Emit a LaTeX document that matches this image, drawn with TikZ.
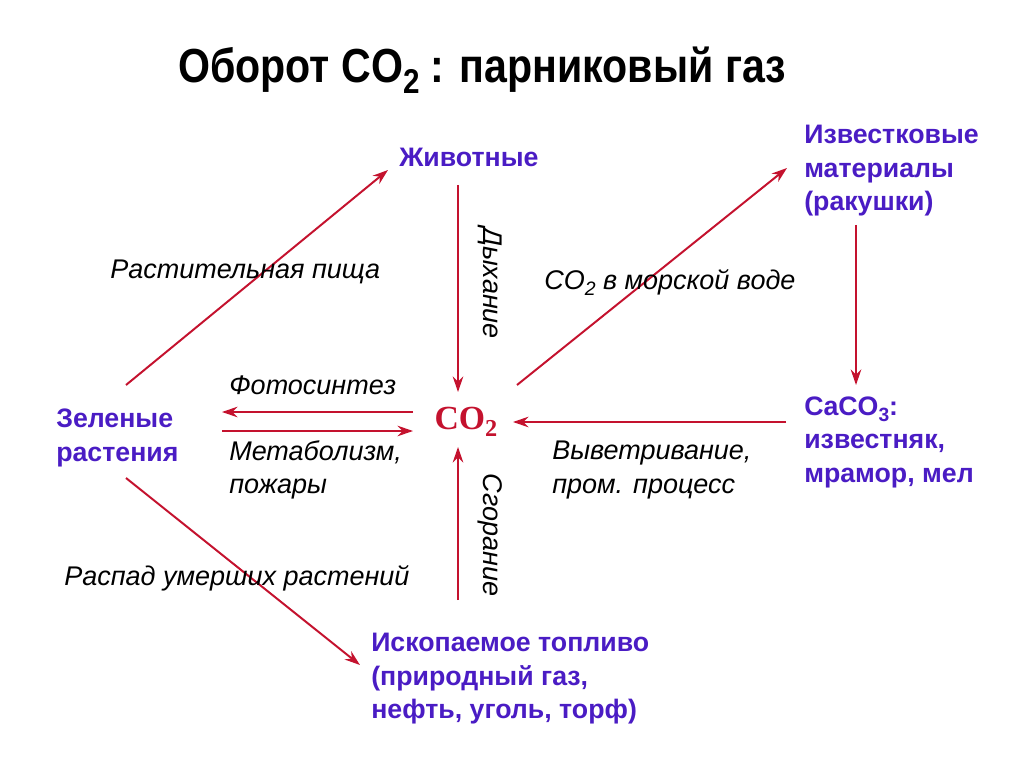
\documentclass[tikz,border=0pt]{standalone}
\usepackage{fontspec}
\setmainfont{Liberation Sans}
\newfontfamily\titlefont[FakeStretch=0.86]{Liberation Sans}
\newfontfamily\cofont{Liberation Serif}
\usepackage{tikz}
\usetikzlibrary{positioning,arrows.meta,calc}
\definecolor{cycViolet}{RGB}{74,28,196}
\definecolor{cycRed}{RGB}{196,18,46}
\newcommand{\lowidx}[1]{\raisebox{-0.42ex}{\scalebox{0.72}{#1}}}

\begin{document}
\begin{tikzpicture}[x=0.025cm, y=-0.025cm,
  box/.style={anchor=west, align=left, text=cycViolet, font=\fontsize{19}{23.8}\selectfont\bfseries, inner sep=0pt},
  lbl/.style={anchor=west, align=left, font=\fontsize{19.2}{23.8}\selectfont\itshape, inner sep=0pt},
  flow/.style={cycRed, line width=1.4pt, -{Stealth[length=11pt,width=7.5pt]}}]
\useasboundingbox (0,0) rectangle (1024,767);
% заголовок
\node[font=\titlefont\fontsize{34}{40}\selectfont\bfseries] (title) at (482,70) {Оборот CO\lowidx{2} : парниковый газ};
% узлы цикла
\node[box] (anim) at (399,157) {Животные};
\node[box] (shell) at (804,171) {Известковые\\материалы\\(ракушки)};
\node[box] (lime) at (804,442) {CaCO\lowidx{3}:\\известняк,\\мрамор, мел};
\node[box] (green) at (56,438) {Зеленые\\растения};
\node[box] (fuel) at (371,679) {Ископаемое топливо\\(природный газ,\\нефть, уголь, торф)};
\node[text=cycRed, font=\cofont\fontsize{24}{28}\selectfont\bfseries, inner sep=0pt] (co) at (466,422) {CO\lowidx{2}};
% концы стрелок
\coordinate (green-up) at (126,385);
\coordinate (green-dn) at (126,478);
\coordinate (anim-in) at (388,170);
\coordinate (anim-out) at (458,185);
\coordinate (co-top) at (458,392);
\coordinate (co-bot) at (458,447);
\coordinate (burn-in) at (458,600);
\coordinate (co-ne) at (517,385);
\coordinate (shell-in) at (787,168);
\coordinate (shell-out) at (856,225);
\coordinate (lime-in) at (856,385);
\coordinate (lime-out) at (786,422);
\coordinate (co-e) at (513,422);
\coordinate (co-w1) at (413,412);
\coordinate (green-e1) at (222,412);
\coordinate (green-e2) at (222,431);
\coordinate (co-w2) at (413,431);
\coordinate (fuel-in) at (360,665);
% стрелки
\draw[flow] (green-up) -- (anim-in);
\draw[flow] (anim-out) -- (co-top);
\draw[flow] (co-ne) -- (shell-in);
\draw[flow] (shell-out) -- (lime-in);
\draw[flow] (lime-out) -- (co-e);
\draw[flow] (co-w1) -- (green-e1);
\draw[flow] (green-e2) -- (co-w2);
\draw[flow] (burn-in) -- (co-bot);
\draw[flow] (green-dn) -- (fuel-in);
% подписи
\node[lbl] (food) at (110,272) {Растительная пища};
\node[lbl, anchor=center, rotate=-90] (breath) at (490,283) {Дыхание};
\node[lbl] (sea) at (544,283) {CO\lowidx{2} в морской воде};
\node[lbl] (photo) at (229,385) {Фотосинтез};
\node[lbl] (metab) at (229,470) {Метаболизм,\\пожары};
\node[lbl] (weather) at (552,470) {Выветривание,\\пром. процесс};
\node[lbl, anchor=center, rotate=-90] (burn) at (490,535) {Сгорание};
\node[lbl] (decay) at (64,578) {Распад умерших растений};
\end{tikzpicture}
\end{document}
